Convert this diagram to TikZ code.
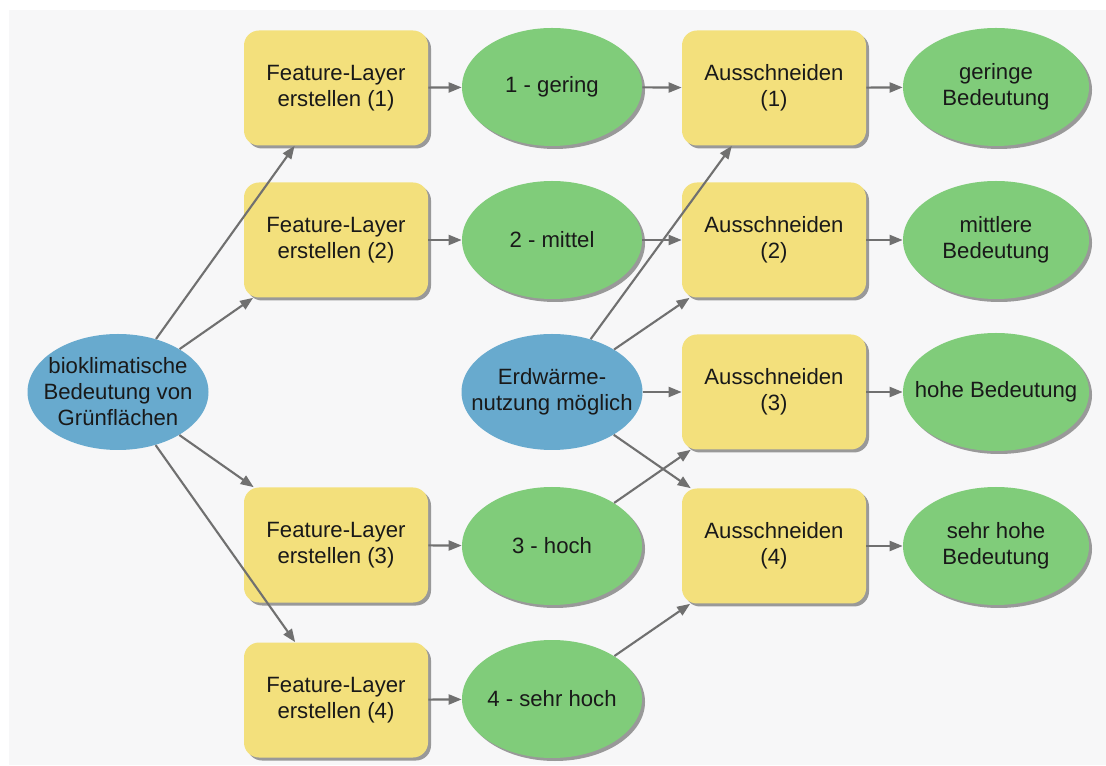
\documentclass[tikz,border=0pt]{standalone}
\usepackage{fontspec}
\setmainfont{Liberation Sans}
\usetikzlibrary{shapes.geometric,arrows.meta,shadows}

\definecolor{toolyellow}{RGB}{243,224,124}
\definecolor{datagreen}{RGB}{128,204,122}
\definecolor{inputblue}{RGB}{104,170,206}
\definecolor{linkgray}{RGB}{112,112,112}
\definecolor{panelgray}{RGB}{247,247,248}

\tikzset{
  boxshadow/.style={drop shadow={shadow xshift=0.06cm, shadow yshift=-0.06cm, fill=black!40, opacity=1}},
  tool/.style={rectangle, rounded corners=0.3cm, fill=toolyellow, minimum width=3.68cm,
      minimum height=2.3cm, inner sep=0pt, align=center, boxshadow},
  data/.style={ellipse, fill=datagreen, minimum width=3.6cm, minimum height=2.36cm,
      inner xsep=-0.45cm, inner ysep=0pt, align=center, boxshadow},
  input/.style={ellipse, fill=inputblue, minimum width=3.62cm, minimum height=2.32cm,
      inner xsep=-0.45cm, inner ysep=0pt, align=center},
  link/.style={linkgray, line width=1.2pt, -{Triangle[length=0.26cm, width=0.2cm]}}
}

\begin{document}
\begin{tikzpicture}[font=\fontsize{12.6}{14.8}\selectfont, text=black!90]

  % canvas
  \useasboundingbox (0,0) rectangle (22.12,15.3);
  \fill[white] (0,0) rectangle (22.12,15.3);
  \fill[panelgray] (0.18,0) rectangle (22.12,15.1);

  % inputs
  \node[input] (bio) at (2.36,7.46) {bioklimatische\\Bedeutung von\\Grünflächen};
  \node[input] (erd) at (11.04,7.46) {Erdwärme-\\nutzung möglich};

  % feature layers
  \node[tool] (fl1) at (6.72,13.54) {Feature-Layer\\erstellen (1)};
  \node[tool] (fl2) at (6.72,10.5) {Feature-Layer\\erstellen (2)};
  \node[tool] (fl3) at (6.72,4.4) {Feature-Layer\\erstellen (3)};
  \node[tool] (fl4) at (6.72,1.3) {Feature-Layer\\erstellen (4)};

  % classes
  \node[data] (cl1) at (11.04,13.56) {1 - gering};
  \node[data] (cl2) at (11.04,10.5) {2 - mittel};
  \node[data] (cl3) at (11.04,4.38) {3 - hoch};
  \node[data] (cl4) at (11.04,1.32) {4 - sehr hoch};

  % clip tools
  \node[tool] (cut1) at (15.48,13.54) {Ausschneiden\\(1)};
  \node[tool] (cut2) at (15.48,10.5) {Ausschneiden\\(2)};
  \node[tool] (cut3) at (15.48,7.46) {Ausschneiden\\(3)};
  \node[tool] (cut4) at (15.48,4.38) {Ausschneiden\\(4)};

  % results
  \node[data, minimum width=3.72cm] (res1) at (19.92,13.56) {geringe\\Bedeutung};
  \node[data, minimum width=3.72cm] (res2) at (19.92,10.5) {mittlere\\Bedeutung};
  \node[data, minimum width=3.72cm] (res3) at (19.92,7.46) {hohe Bedeutung};
  \node[data, minimum width=3.72cm] (res4) at (19.92,4.38) {sehr hohe\\Bedeutung};

  % connections
  \foreach \i in {1,...,4} {
      \draw[link] (bio) -- (fl\i);
      \draw[link] (fl\i) -- (cl\i);
      \draw[link] (cl\i) -- (cut\i);
      \draw[link] (erd) -- (cut\i);
      \draw[link] (cut\i) -- (res\i);
    }
\end{tikzpicture}
\end{document}
